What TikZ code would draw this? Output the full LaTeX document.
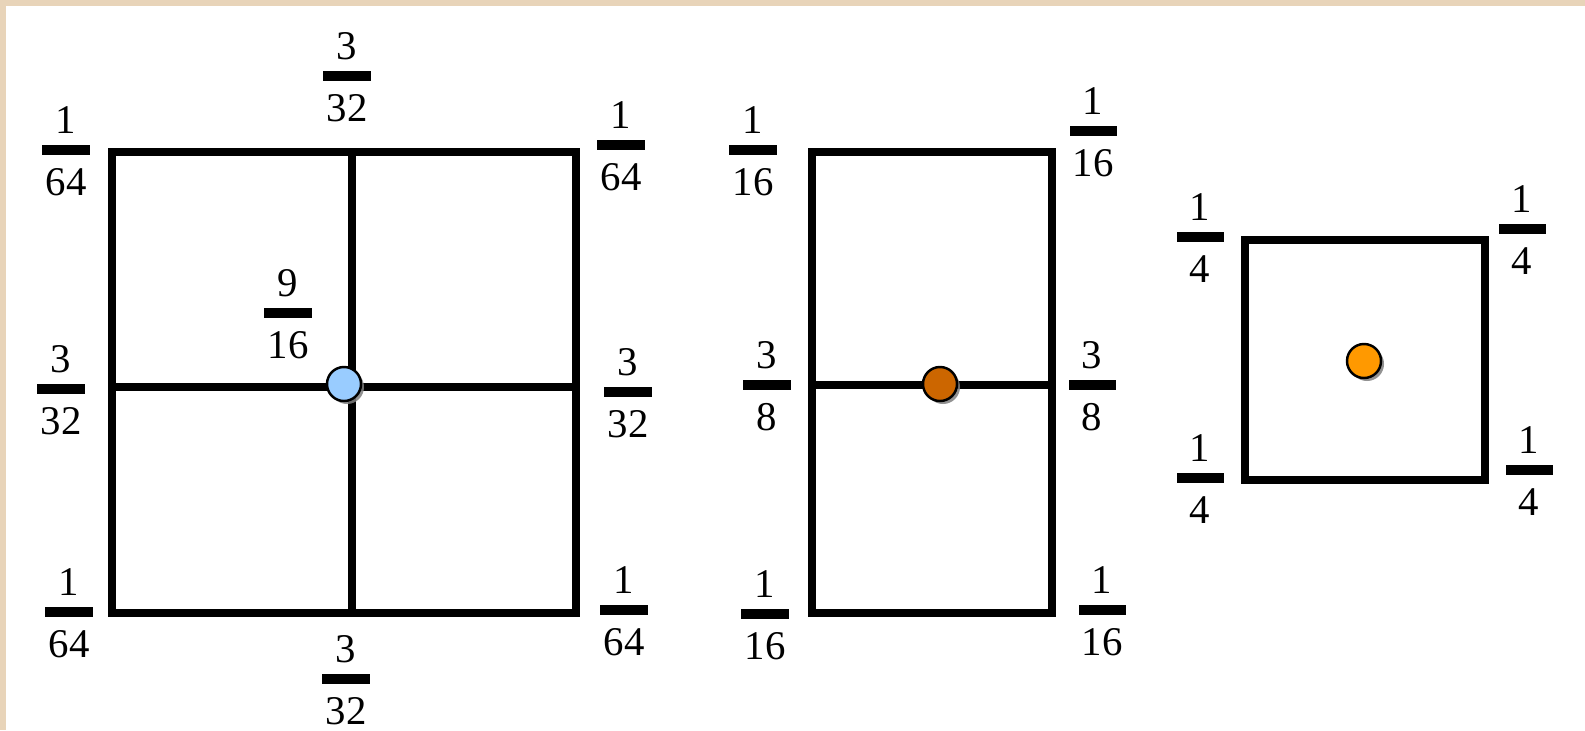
\documentclass[tikz,border=0pt]{standalone}
\usepackage{fontspec}
\setmainfont{Liberation Serif}
\usetikzlibrary{shadows}
\definecolor{frametan}{HTML}{E8D4B9}
\definecolor{dotblue}{HTML}{99CCFF}
\definecolor{dotbrown}{HTML}{CC6600}
\definecolor{dotorange}{HTML}{FF9900}
\tikzset{
  bar/.style={fill=black,inner sep=0pt,minimum width=0.47cm,minimum height=0.1cm},
  num/.style={inner sep=0pt,label distance=0.1cm,font=\fontsize{11.6}{13}\selectfont},
  den/.style={inner sep=0pt,label distance=0.12cm,font=\fontsize{11.6}{13}\selectfont},
  box/.style={line width=0.08cm},
  dot/.style={circle,draw=black,line width=0.7pt,minimum size=0.34cm,inner sep=0pt,
    drop shadow={shadow xshift=0.03cm,shadow yshift=-0.03cm,opacity=0.85}}
}
\newcommand{\fracbar}[4]{\node[bar,label={[num]above:#3},label={[den]below:#4}] (#1) at (#2) {};}

\begin{document}
\begin{tikzpicture}[x=0.01cm,y=-0.01cm]
  \fill[frametan] (0,0) rectangle (1585,730);
  \fill[white] (6,6) rectangle (1585,730);
  \useasboundingbox (0,0) rectangle (1585,730);
  % nine points
  \coordinate (a1) at (112,152);
  \coordinate (a2) at (576,613);
  \draw[box] (a1) rectangle (a2);
  \draw[box] (352,152) -- (352,613);
  \draw[box] (112,387) -- (576,387);
  % six points
  \coordinate (b1) at (812,152);
  \coordinate (b2) at (1052,613);
  \draw[box] (b1) rectangle (b2);
  \draw[box] (812,385) -- (1052,385);
  % four points
  \coordinate (c1) at (1245,240);
  \coordinate (c2) at (1485,480);
  \draw[box] (c1) rectangle (c2);
  \node[dot,fill=dotblue] (dA) at (344,384) {};
  \node[dot,fill=dotbrown] (dB) at (940,384) {};
  \node[dot,fill=dotorange] (dC) at (1364,361) {};
  \fracbar{f1}{66,150}{1}{64}
  \fracbar{f2}{347,76}{3}{32}
  \fracbar{f3}{621,145}{1}{64}
  \fracbar{f4}{288,313}{9}{16}
  \fracbar{f5}{61,389}{3}{32}
  \fracbar{f6}{628,392}{3}{32}
  \fracbar{f7}{69,612}{1}{64}
  \fracbar{f8}{346,679}{3}{32}
  \fracbar{f9}{624,610}{1}{64}
  \fracbar{g1}{753,150}{1}{16}
  \fracbar{g2}{1093,131}{1}{16}
  \fracbar{g3}{767,385}{3}{8}
  \fracbar{g4}{1092,385}{3}{8}
  \fracbar{g5}{765,614}{1}{16}
  \fracbar{g6}{1102,610}{1}{16}
  \fracbar{h1}{1200,237}{1}{4}
  \fracbar{h2}{1522,229}{1}{4}
  \fracbar{h3}{1200,478}{1}{4}
  \fracbar{h4}{1529,470}{1}{4}
\end{tikzpicture}
\end{document}
